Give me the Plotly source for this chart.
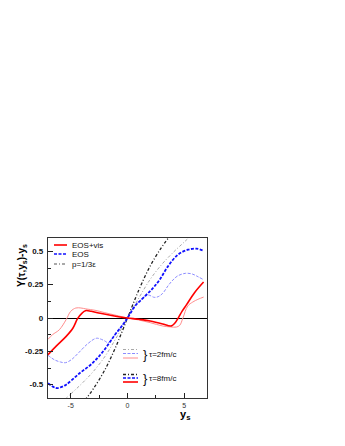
import plotly.graph_objects as go

# ---------------- data ----------------
red8_x = [-7, -6.3, -5.4, -4.8, -4.4, -4.0, -3.7, -3.2, -2.4, -1.5, -0.8, 0, 1, 2, 3.1, 3.6, 3.9, 4.2, 4.5, 4.8, 5.2, 5.9, 6.7]
red8_y = [-0.275, -0.213, -0.138, -0.075, -0.005, 0.037, 0.055, 0.05, 0.035, 0.02, 0.01, 0, -0.01, -0.022, -0.045, -0.058, -0.058, -0.035, 0.005, 0.05, 0.1, 0.19, 0.27]

red2_x = [-7, -6.6, -6.0, -5.4, -5.0, -4.55, -4.1, -3.66, -2.86, -2.0, -1.0, 0, 1, 2, 3.1, 3.8, 4.3, 4.6, 4.88, 5.3, 5.75, 6.2, 6.7]
red2_y = [-0.16, -0.125, -0.088, -0.012, 0.05, 0.075, 0.075, 0.068, 0.058, 0.04, 0.02, 0, -0.015, -0.035, -0.06, -0.067, -0.068, -0.055, 0, 0.09, 0.12, 0.14, 0.157]

blue8_x = [-7, -6.3, -5.9, -5.4, -4.3, -3.1, -2.05, -1.1, -0.5, 0, 0.64, 1.52, 2.25, 2.83, 3.56, 4.44, 5.32, 6.05, 6.7]
blue8_y = [-0.49, -0.525, -0.52, -0.5, -0.42, -0.34, -0.24, -0.125, -0.06, 0, 0.087, 0.162, 0.225, 0.287, 0.387, 0.475, 0.512, 0.52, 0.505]

blue2_x = [-7, -6.4, -5.9, -5.45, -4.9, -4.33, -3.46, -2.75, -2.3, -2.0, -1.7, -1.1, -0.5, 0, 0.64, 1.5, 1.85, 2.35, 2.7, 3.1, 3.6, 4.0, 4.4, 5.1, 5.7, 6.2, 6.7]
blue2_y = [-0.28, -0.315, -0.33, -0.335, -0.31, -0.263, -0.19, -0.152, -0.16, -0.172, -0.185, -0.125, -0.06, 0, 0.087, 0.16, 0.172, 0.155, 0.16, 0.185, 0.245, 0.285, 0.315, 0.335, 0.33, 0.31, 0.287]

ideal8_x = [-4.2, -3.6, -3, -2, -1, 0, 1, 2, 3, 3.6, 4.2]
ideal8_y = [-0.66, -0.6, -0.53, -0.39, -0.21, 0, 0.21, 0.39, 0.53, 0.6, 0.66]

ideal2_x = [-6, -5, -4, -3, -2, -1, 0, 1, 2, 3, 4, 5, 6]
ideal2_y = [-0.65, -0.57, -0.49, -0.4, -0.29, -0.15, 0, 0.15, 0.29, 0.4, 0.49, 0.57, 0.65]

y_ticks = [-0.5, -0.25, 0, 0.25, 0.5]
y_ticktext = ["-0.5", "-0.25", "0", "0.25", "0.5"]
x_ticks = [-5, 0, 5]
x_ticktext = ["-5", "0", "5"]

legend_labels = ["EOS+vis", "EOS", "p=1/3\u03b5"]
tau_labels = ["\u03c4=2fm/c", "\u03c4=8fm/c"]

# ---------------- styles ----------------
RED = "#ff0000"
LRED = "#ff8c8c"
BLUE = "#1010ff"
LBLUE = "#8c8cff"
DK = "#222222"
LG = "#a8a8a8"
DASH = "3px,1.5px"
DASHDOT = "3px,2px,1px,2px"
FONT = "Liberation Sans, Arial, sans-serif"

fig = go.Figure()

def add(x, y, color, width, dash):
    fig.add_trace(go.Scatter(x=x, y=y, mode="lines", showlegend=False, hoverinfo="skip",
                             line=dict(color=color, width=width, dash=dash, shape="spline", smoothing=1.0)))

add(ideal2_x, ideal2_y, LG, 1.0, DASHDOT)
add(ideal8_x, ideal8_y, DK, 1.3, DASHDOT)
add(blue2_x, blue2_y, LBLUE, 1.0, DASH)
add(red2_x, red2_y, LRED, 1.0, "solid")
add(blue8_x, blue8_y, BLUE, 1.8, DASH)
add(red8_x, red8_y, RED, 1.6, "solid")

# page has an 8px body margin; plot area in screenshot pixels: x 48..207, y 238..398
OFF = 8
L, R, T, B = 48, 207, 238, 398
def PX(p): return (p - L) / (R - L)
def PY(p): return (B - p) / (B - T)

shapes = []
annotations = []

def sample(x0, x1, y, color, width, dash):
    shapes.append(dict(type="line", xref="paper", yref="paper", x0=PX(x0), x1=PX(x1), y0=PY(y), y1=PY(y),
                       line=dict(color=color, width=width, dash=dash)))

# top-left legend
leg_styles = [(RED, 1.6, "solid"), (BLUE, 1.5, DASH), ("#555555", 1.2, DASHDOT)]
leg_y = [245, 254, 264]
for lab, (c, w, d), yy in zip(legend_labels, leg_styles, leg_y):
    sample(54, 67, yy, c, w, d)
    annotations.append(dict(xref="paper", yref="paper", x=PX(70), y=PY(yy), text=lab, showarrow=False,
                            xanchor="left", yanchor="middle", font=dict(family=FONT, size=8, color="#111")))

# bottom-right tau legend
sample(123, 138, 349.5, LG, 1.0, DASHDOT)
sample(123, 138, 353.5, LBLUE, 1.0, DASH)
sample(123, 138, 358, LRED, 1.0, "solid")
sample(123, 138, 374.5, DK, 1.3, DASHDOT)
sample(123, 138, 378, BLUE, 1.6, DASH)
sample(123, 138, 382, RED, 1.6, "solid")
for lab, yy in zip(tau_labels, [354, 378]):
    annotations.append(dict(xref="paper", yref="paper", x=PX(141), y=PY(yy), text="}", showarrow=False,
                            xanchor="left", yanchor="middle", font=dict(family=FONT, size=13, color="#111")))
    annotations.append(dict(xref="paper", yref="paper", x=PX(147), y=PY(yy), text=lab, showarrow=False,
                            xanchor="left", yanchor="middle", font=dict(family=FONT, size=8, color="#111")))

# axis titles
annotations.append(dict(xref="paper", yref="paper", x=PX(22), y=PY(266),
                        text="<b>Y(\u03c4,y<sub>s</sub>)-y<sub>s</sub></b>",
                        showarrow=False, textangle=-90, xanchor="center", yanchor="middle",
                        font=dict(family=FONT, size=10, color="#000")))
annotations.append(dict(xref="paper", yref="paper", x=PX(185), y=PY(415), text="<b>y<sub>s</sub></b>",
                        showarrow=False, xanchor="center", yanchor="middle",
                        font=dict(family=FONT, size=11, color="#000")))

W, H = 345, 446
fig.update_layout(
    width=W, height=H,
    margin=dict(l=L - OFF, r=W - (R - OFF), t=T - OFF, b=H - (B - OFF), pad=0),
    paper_bgcolor="white", plot_bgcolor="white",
    shapes=shapes, annotations=annotations,
    xaxis=dict(range=[-7, 7], tickvals=x_ticks, ticktext=x_ticktext, ticks="inside", ticklen=5, tickwidth=1,
               tickcolor="#222", showline=True, mirror=True, linecolor="#333", linewidth=1.2,
               showgrid=False, zeroline=False,
               minor=dict(ticks="inside", dtick=2.5, tick0=0, ticklen=3, tickcolor="#222"),
               tickfont=dict(family=FONT, size=7, color="#333")),
    yaxis=dict(range=[-0.6, 0.6], tickvals=y_ticks, ticktext=y_ticktext, ticks="inside", ticklen=5, tickwidth=1,
               tickcolor="#222", showline=True, mirror=True, linecolor="#333", linewidth=1.2,
               showgrid=False, zeroline=True, zerolinecolor="#000", zerolinewidth=1.2,
               minor=dict(ticks="inside", dtick=0.125, tick0=0, ticklen=3, tickcolor="#222"),
               ticklabelstandoff=2,
               tickfont=dict(family=FONT, size=8, color="#111", weight="bold")),
)

fig.write_html("out.html")
